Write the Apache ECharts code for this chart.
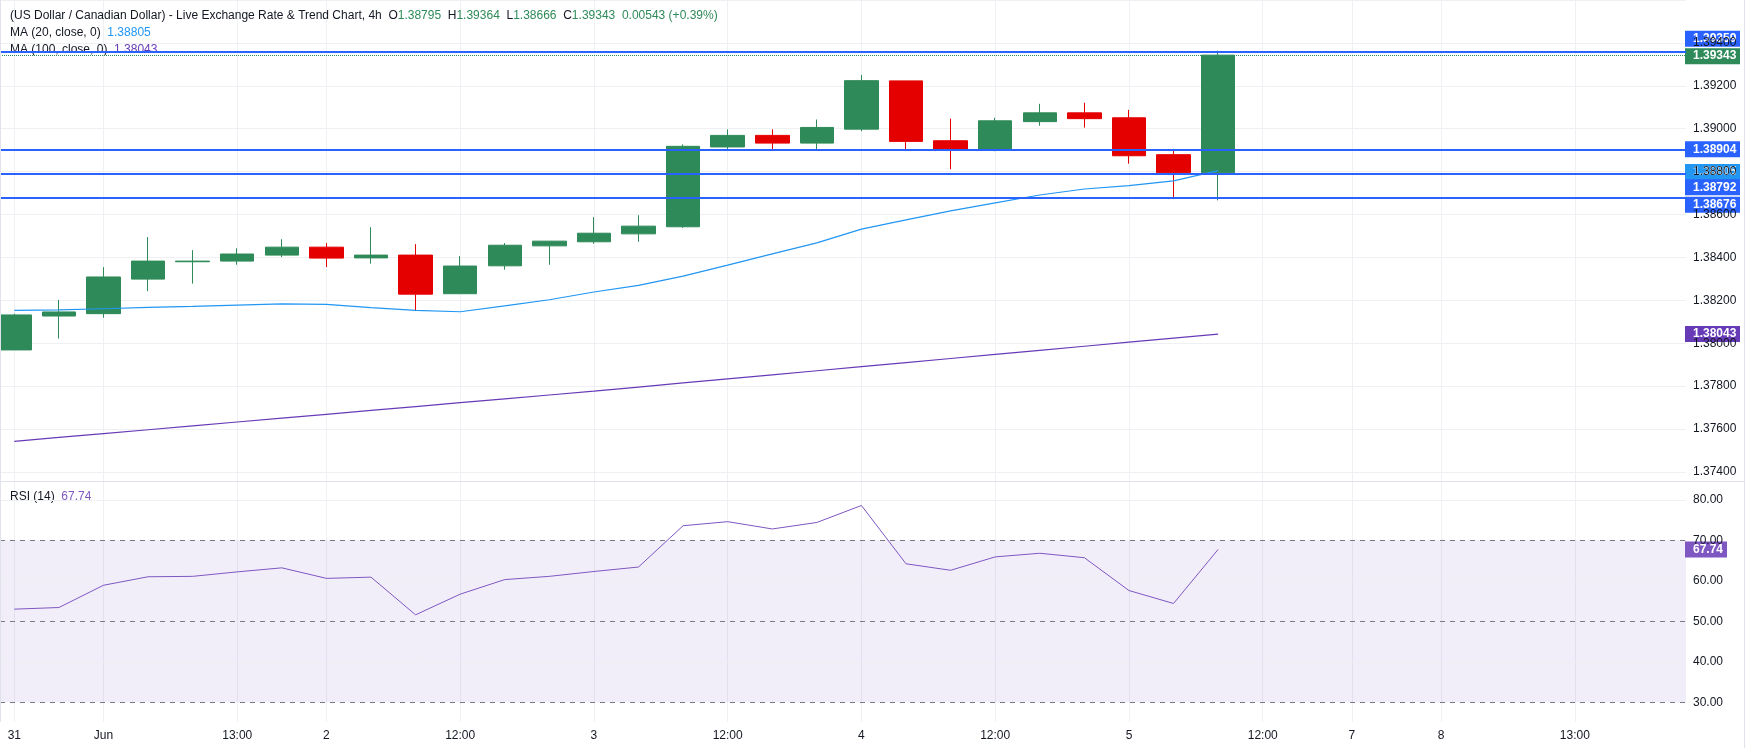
<!DOCTYPE html>
<html lang="en">
<head>
    <meta charset="UTF-8">
    <title>USD/CAD 4h</title>
    <script src="https://cdn.jsdelivr.net/npm/echarts@6/dist/echarts.min.js"></script>
    <style>
        html, body { margin: 0; padding: 0; background: #fff; }
        #charts { width: 1746px; height: 748px; }
    </style>
</head>
<body>
<div id="charts"></div>

<script>
    // time axis: one entry per 4h bar, text only where the axis shows a label
    var timeLabels = ['31', '', 'Jun', '', '', '13:00', '', '2', '', '', '12:00', '', '', '3', '', '', '12:00', '', '',
        '4', '', '', '12:00', '', '', '5', '', '', '12:00', '', '7', '', '8', '', '', '13:00', '', ''];

    // candles
    var open  = [1.37969, 1.38127, 1.38138, 1.38299, 1.38380, 1.38383, 1.38411, 1.38448, 1.38398, 1.38411,
                 1.38231, 1.38361, 1.38454, 1.38473, 1.38510, 1.38543, 1.38915, 1.38969, 1.38933, 1.38998,
                 1.39223, 1.38944, 1.38904, 1.39033, 1.39074, 1.39051, 1.38879, 1.38795];
    var high  = [1.38138, 1.38202, 1.38355, 1.38495, 1.38434, 1.38443, 1.38485, 1.38467, 1.38541, 1.38462,
                 1.38406, 1.38467, 1.38476, 1.38588, 1.38597, 1.38927, 1.38997, 1.38997, 1.39043, 1.39251,
                 1.39223, 1.39047, 1.39051, 1.39116, 1.39121, 1.39088, 1.38904, 1.39364];
    var low   = [1.37969, 1.38022, 1.38119, 1.38243, 1.38278, 1.38366, 1.38402, 1.38355, 1.38371, 1.38153,
                 1.38231, 1.38343, 1.38366, 1.38464, 1.38473, 1.38538, 1.38896, 1.38896, 1.38902, 1.38988,
                 1.38904, 1.38811, 1.38895, 1.39014, 1.39005, 1.38837, 1.38679, 1.38666];
    var close = [1.38132, 1.38146, 1.38309, 1.38383, 1.38383, 1.38416, 1.38448, 1.38397, 1.38411, 1.38229,
                 1.38360, 1.38457, 1.38476, 1.38513, 1.38546, 1.38918, 1.38969, 1.38933, 1.39006, 1.39224,
                 1.38941, 1.38904, 1.39037, 1.39074, 1.39047, 1.38874, 1.38795, 1.39343];

    var ma20  = [1.38153, 1.38156, 1.38161, 1.38167, 1.38172, 1.38178, 1.38184, 1.38181, 1.38166, 1.38153,
                 1.38147, 1.38174, 1.38203, 1.38239, 1.38270, 1.38313, 1.38364, 1.38417, 1.38468, 1.38532,
                 1.38575, 1.38617, 1.38654, 1.38691, 1.38719, 1.38735, 1.38757, 1.38805];
    var ma100 = [1.37543, 1.37561, 1.37579, 1.37597, 1.37615, 1.37633, 1.37651, 1.37669, 1.37687, 1.37705,
                 1.37723, 1.37741, 1.37759, 1.37777, 1.37796, 1.37815, 1.37834, 1.37853, 1.37872, 1.37891,
                 1.37910, 1.37929, 1.37948, 1.37967, 1.37986, 1.38005, 1.38024, 1.38043];
    var rsi   = [53.0, 53.4, 58.9, 61.0, 61.1, 62.2, 63.2, 60.6, 60.9, 51.6,
                 56.7, 60.3, 61.1, 62.3, 63.4, 73.6, 74.6, 72.8, 74.4, 78.6,
                 64.2, 62.6, 65.9, 66.8, 65.7, 57.6, 54.4, 67.74];

    // horizontal levels drawn on the chart
    var levels = [1.39359, 1.38904, 1.38792, 1.38676];
    var rsiBands = [30, 50, 70];
    var rsiGrid = [40, 60, 80];

    var upColor = '#2e8a58';
    var downColor = '#e50000';
    var levelColor = '#2962ff';
    var ma20Color = '#2196f3';
    var ma100Color = '#673ab7';
    var rsiColor = '#7e57c2';
    var gridColor = '#eef0f4';
    var textColor = '#131722';
    var font = '"Liberation Sans", Arial, sans-serif';

    // bar index range visible in the panes (first bar sits a little in from the left edge)
    var barMin = -0.321;
    var barMax = 37.494;

    var bars = timeLabels.map(function (t, i) { return 'b' + i; });
    var candleData = close.map(function (c, i) { return [i, open[i], c, low[i], high[i]]; });
    function indexed(arr) { return arr.map(function (v, i) { return [i, v]; }); }
    var last = close.length - 1;

    function isLabelled(index) { return timeLabels[index] !== ''; }

    var chart = echarts.init(document.getElementById('charts'));

    var levelLines = levels.map(function (v) {
        return { yAxis: v, lineStyle: { color: levelColor, width: 2, type: 'solid' } };
    });
    levelLines.push({ yAxis: close[last], lineStyle: { color: upColor, width: 1, type: 'dotted' } });

    var rsiLines = rsiBands.map(function (v) {
        return { yAxis: v, lineStyle: { color: '#787b86', width: 1, type: [5, 5] } };
    }).concat(rsiGrid.map(function (v) {
        return { yAxis: v, lineStyle: { color: gridColor, width: 1, type: 'solid' } };
    }));

    var option = {
        animation: false,
        backgroundColor: '#fff',
        textStyle: { fontFamily: font },
        grid: [
            { left: 0, right: 60, top: -2, height: 474 },
            { left: 0, right: 60, top: 459.3, height: 283.5 },
            { left: 14.3, right: 82, top: 0, height: 722 }
        ],
        xAxis: [
            { type: 'value', gridIndex: 0, min: barMin, max: barMax, show: false },
            { type: 'value', gridIndex: 1, min: barMin, max: barMax, show: false },
            {
                type: 'category', gridIndex: 2, data: bars, boundaryGap: false,
                axisLine: { show: false }, axisTick: { show: false },
                axisLabel: {
                    interval: isLabelled, margin: 8, color: textColor, fontSize: 12, fontFamily: font,
                    formatter: function (v, i) { return timeLabels[i]; }
                },
                splitLine: { show: true, interval: isLabelled, lineStyle: { color: gridColor, width: 1 } }
            }
        ],
        yAxis: [
            {
                type: 'value', gridIndex: 0, position: 'right', min: 1.374, max: 1.396, interval: 0.002,
                axisLine: { show: false }, axisTick: { show: false },
                axisLabel: {
                    margin: 7, color: textColor, fontSize: 12, fontFamily: font,
                    formatter: function (v) { return v > 1.395 ? '' : v.toFixed(5); }
                },
                splitLine: { lineStyle: { color: gridColor, width: 1 } }
            },
            {
                type: 'value', gridIndex: 1, position: 'right', min: 20, max: 90, interval: 10,
                axisLine: { show: false }, axisTick: { show: false },
                axisLabel: {
                    margin: 7, color: textColor, fontSize: 12, fontFamily: font,
                    formatter: function (v) { return (v < 25 || v > 85) ? '' : v.toFixed(2); }
                },
                splitLine: { show: false }
            },
            { type: 'value', gridIndex: 2, show: false }
        ],
        series: [
            {
                type: 'candlestick', name: 'USD/CAD', xAxisIndex: 0, yAxisIndex: 0,
                data: candleData, barWidth: 34, clip: false,
                itemStyle: {
                    color: upColor, color0: downColor,
                    borderColor: upColor, borderColor0: downColor, borderWidth: 1
                }
            },
            {
                type: 'line', name: 'MA 20', xAxisIndex: 0, yAxisIndex: 0, data: indexed(ma20),
                symbol: 'none', lineStyle: { color: ma20Color, width: 1.2 },
                markLine: { silent: true, symbol: 'none', precision: 5, label: { show: false }, data: levelLines }
            },
            {
                type: 'line', name: 'MA 100', xAxisIndex: 0, yAxisIndex: 0, data: indexed(ma100),
                symbol: 'none', lineStyle: { color: ma100Color, width: 1.2 }
            },
            {
                type: 'line', name: 'RSI 14', xAxisIndex: 1, yAxisIndex: 1, data: indexed(rsi), z: 10,
                symbol: 'none', lineStyle: { color: rsiColor, width: 1 },
                markArea: {
                    silent: true, itemStyle: { color: 'rgba(126,87,194,0.1)' },
                    data: [[{ yAxis: rsiBands[0] }, { yAxis: rsiBands[2] }]]
                },
                markLine: { silent: true, symbol: 'none', precision: 2, z: 3, label: { show: false }, data: rsiLines }
            }
        ]
    };
    chart.setOption(option);

    // value tags on the price / rsi scales
    function tag(axis, value, digits, bg, dy, w) {
        var y = chart.convertToPixel({ yAxisIndex: axis }, value) + dy;
        return {
            type: 'group', z: 100, children: [
                { type: 'rect', shape: { x: 1685, y: y - 8, width: w, height: 16 }, style: { fill: bg } },
                {
                    type: 'text', x: 1693, y: y,
                    style: {
                        text: value.toFixed(digits), fill: '#fff', fontSize: 12, fontWeight: 'bold',
                        fontFamily: font, verticalAlign: 'middle', align: 'left'
                    }
                }
            ]
        };
    }

    function headerLine(y, text, rich) {
        return {
            type: 'text', x: 10, y: y, z: 0,
            style: { text: text, rich: rich, fontSize: 12, fontFamily: font, verticalAlign: 'middle', fill: textColor }
        };
    }

    var rich = {
        d: { fontSize: 12, fontFamily: font, fill: textColor, color: textColor },
        g: { fontSize: 12, fontFamily: font, fill: upColor, color: upColor },
        b: { fontSize: 12, fontFamily: font, fill: ma20Color, color: ma20Color },
        p: { fontSize: 12, fontFamily: font, fill: ma100Color, color: ma100Color },
        r: { fontSize: 12, fontFamily: font, fill: rsiColor, color: rsiColor }
    };

    chart.setOption({
        graphic: [
            headerLine(15.5, '{d|(US Dollar / Canadian Dollar) - Live Exchange Rate & Trend Chart, 4h  O}{g|' + open[last].toFixed(5) +
                '}{d|  H}{g|' + high[last].toFixed(5) + '}{d|  L}{g|' + low[last].toFixed(5) +
                '}{d|  C}{g|' + close[last].toFixed(5) + '  0.00543 (+0.39%)}', rich),
            headerLine(33, '{d|MA (20, close, 0)  }{b|' + ma20[last].toFixed(5) + '}', rich),
            headerLine(50, '{d|MA (100, close, 0)  }{p|' + ma100[last].toFixed(5) + '}', rich),
            headerLine(497, '{d|RSI (14)  }{r|' + rsi[last].toFixed(2) + '}', rich),
            { type: 'line', z: 50, shape: { x1: 0, y1: 481.5, x2: 1744, y2: 481.5 }, style: { stroke: '#e0e3eb', lineWidth: 1 } },
            { type: 'line', z: 50, shape: { x1: 1744.5, y1: 0, x2: 1744.5, y2: 748 }, style: { stroke: '#e0e3eb', lineWidth: 1 } },
            { type: 'line', z: 50, shape: { x1: 0.5, y1: 0, x2: 0.5, y2: 722 }, style: { stroke: '#e0e3eb', lineWidth: 1 } },
            tag(0, levels[0], 5, levelColor, -13, 55),
            tag(0, close[last], 5, upColor, 1, 55),
            tag(0, levels[1], 5, levelColor, 0, 55),
            tag(0, ma20[last], 5, ma20Color, 1.5, 55),
            tag(0, levels[2], 5, levelColor, 14, 55),
            tag(0, levels[3], 5, levelColor, 6.5, 55),
            tag(0, ma100[last], 5, ma100Color, 0, 55),
            tag(1, rsi[last], 2, rsiColor, 0, 42)
        ]
    });
</script>
</body>
</html>
